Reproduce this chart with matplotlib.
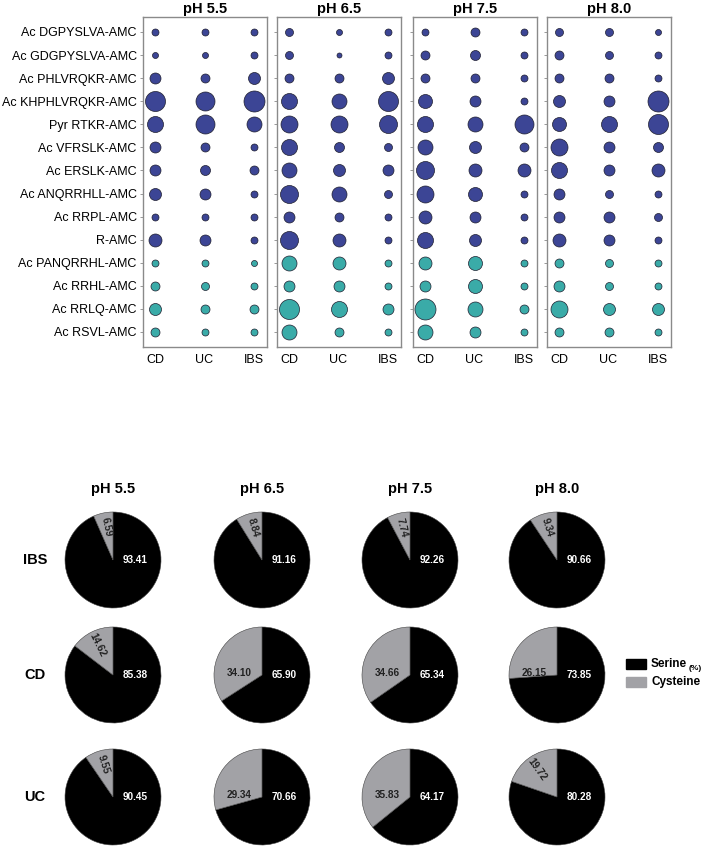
import matplotlib
matplotlib.use("Agg")
import matplotlib.pyplot as plt
import numpy as np

plt.rcParams["font.family"] = ["Liberation Sans", "DejaVu Sans"]

# ---- top: bubble chart -------------------------------------------------
peptides = [
    "Ac DGPYSLVA-AMC", "Ac GDGPYSLVA-AMC", "Ac PHLVRQKR-AMC", "Ac KHPHLVRQKR-AMC",
    "Pyr RTKR-AMC", "Ac VFRSLK-AMC", "Ac ERSLK-AMC", "Ac ANQRRHLL-AMC",
    "Ac RRPL-AMC", "R-AMC", "Ac PANQRRHL-AMC", "Ac RRHL-AMC", "Ac RRLQ-AMC",
    "Ac RSVL-AMC",
]
groups = ["CD", "UC", "IBS"]
ph_labels = ["pH 5.5", "pH 6.5", "pH 7.5", "pH 8.0"]
n_blue = 10  # first 10 substrates navy, rest teal

# relative bubble size (read as diameter) per pH, columns CD, UC, IBS
ph55 = [[7, 7, 7], [6, 6, 7], [11, 9, 12], [20, 19, 21], [16, 19, 15],
        [11, 9, 7], [11, 10, 9], [12, 11, 7], [7, 7, 7], [13, 11, 7],
        [7, 7, 6], [9, 8, 7], [12, 9, 9], [9, 7, 7]]
ph65 = [[8, 6, 7], [8, 5, 7], [9, 9, 12], [16, 15, 20], [17, 17, 18],
        [16, 10, 8], [15, 12, 11], [18, 15, 8], [11, 9, 7], [18, 13, 7],
        [15, 13, 7], [11, 11, 7], [20, 16, 11], [15, 9, 7]]
ph75 = [[7, 9, 7], [9, 10, 7], [9, 9, 7], [14, 11, 7], [16, 15, 19],
        [15, 12, 9], [18, 13, 13], [17, 14, 7], [13, 11, 7], [16, 12, 7],
        [13, 14, 7], [11, 14, 7], [21, 15, 9], [15, 11, 7]]
ph80 = [[8, 8, 6], [9, 8, 7], [9, 9, 7], [12, 11, 21], [14, 16, 20],
        [17, 11, 10], [16, 11, 13], [11, 8, 7], [11, 11, 8], [13, 11, 7],
        [9, 8, 7], [11, 8, 7], [17, 12, 12], [9, 9, 7]]
bubble_data = [ph55, ph65, ph75, ph80]

# ---- bottom: pies ------------------------------------------------------
pie_rows = ["IBS", "CD", "UC"]
serine = [[93.41, 91.16, 92.26, 90.66],
          [85.38, 65.90, 65.34, 73.85],
          [90.45, 70.66, 64.17, 80.28]]
cysteine = [[6.59, 8.84, 7.74, 9.34],
            [14.62, 34.10, 34.66, 26.15],
            [9.55, 29.34, 35.83, 19.72]]

NAVY = "#3c4595"
TEAL = "#3aaba8"
GREY = "#a2a2a6"
W, H = 706, 846

fig = plt.figure(figsize=(W / 100, H / 100), dpi=100)


def px_axes(x0, y0, w, h):
    return fig.add_axes([x0 / W, 1 - (y0 + h) / H, w / W, h / H])


panel_left = [143, 277, 413, 547]
for p, data in enumerate(bubble_data):
    ax = px_axes(panel_left[p], 17, 124, 330)
    vals = np.array(data, dtype=float)
    for j in range(3):
        for i in range(len(peptides)):
            d = vals[i, j] * 0.72  # px -> pt
            ax.scatter(j, i, s=d ** 2, color=NAVY if i < n_blue else TEAL,
                       edgecolors="#1e1e2e", linewidths=0.5, zorder=3)
    ax.set_xlim(-0.25, 2.27)
    ax.set_ylim(len(peptides) - 1 + 0.65, -0.65)
    ax.set_xticks(range(3))
    ax.set_xticklabels(groups, fontsize=9)
    ax.tick_params(axis="x", length=0, pad=5)
    ax.set_yticks(range(len(peptides)))
    if p == 0:
        ax.set_yticklabels(peptides, fontsize=9)
    else:
        ax.set_yticklabels([])
    ax.tick_params(axis="y", length=2.5, width=0.6, color="#888888", pad=2)
    for sp in ax.spines.values():
        sp.set_color("#8a8a8a")
        sp.set_linewidth(1.0)
    ax.set_title(ph_labels[p], fontsize=10.5, fontweight="bold", pad=3)

# pies
pie_cx = [113, 262, 410, 557]
pie_cy = [560, 675, 797]
R = 48
for r in range(3):
    for c in range(4):
        ax = px_axes(pie_cx[c] - R * 1.05, pie_cy[r] - R * 1.05, R * 2.1, R * 2.1)
        s, cy = serine[r][c], cysteine[r][c]
        ax.pie([s, cy], colors=["black", GREY], startangle=90, counterclock=False,
               wedgeprops=dict(edgecolor="#444444", linewidth=0.4))
        ax.set_xlim(-1.05, 1.05)
        ax.set_ylim(-1.05, 1.05)
        ax.set_aspect("equal")
        ax.text(0.47, 0.0, f"{s:.2f}", color="white", fontsize=7.2,
                fontweight="bold", ha="center", va="center")
        if cy > 22:
            ax.text(-0.48, 0.05, f"{cy:.2f}", color="#222222", fontsize=7.2,
                    fontweight="bold", ha="center", va="center")
        else:
            mid = 90 + cy * 3.6 / 2
            ax.text(0.7 * np.cos(np.radians(mid)), 0.7 * np.sin(np.radians(mid)),
                    f"{cy:.2f}", color="#222222", fontsize=7.2, fontweight="bold",
                    ha="center", va="center", rotation=mid - 180,
                    rotation_mode="anchor")
        if r == 0:
            ax.set_title(ph_labels[c], fontsize=10.5, fontweight="bold", pad=12)
    fig.text(35 / W, 1 - pie_cy[r] / H, pie_rows[r], fontsize=10.5,
             fontweight="bold", ha="center", va="center")

# legend
fig.patches.append(plt.Rectangle((626 / W, 1 - 669 / H), 20 / W, 10 / H,
                                 color="black", transform=fig.transFigure))
fig.patches.append(plt.Rectangle((626 / W, 1 - 687 / H), 20 / W, 10 / H,
                                 color=GREY, transform=fig.transFigure))
fig.text(651 / W, 1 - 664 / H, "Serine", fontsize=8.5, fontweight="bold", va="center")
fig.text(689 / W, 1 - 668 / H, "(%)", fontsize=6, fontweight="bold", va="center")
fig.text(651 / W, 1 - 682 / H, "Cysteine", fontsize=8.5, fontweight="bold", va="center")

fig.savefig("out.png", dpi=100)
